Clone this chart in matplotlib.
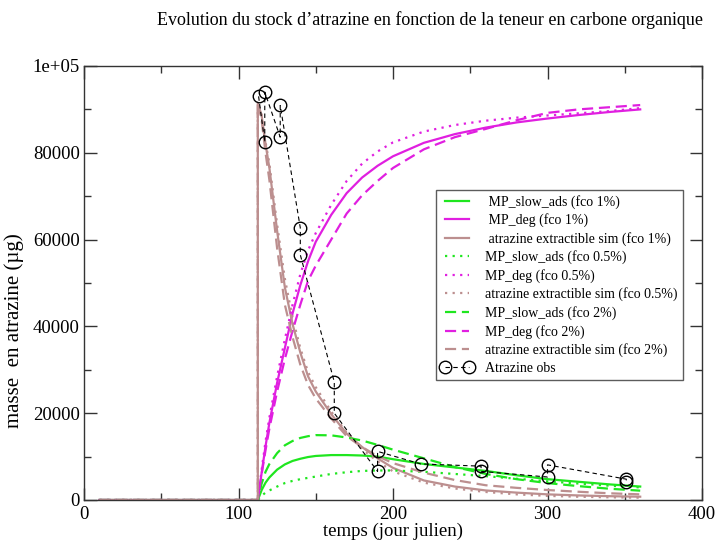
import matplotlib
matplotlib.use("Agg")
import matplotlib.pyplot as plt
from matplotlib.ticker import MultipleLocator

plt.rcParams['font.family'] = ['Liberation Serif', 'DejaVu Serif']

# ---------------- data ----------------
t_sim = [10, 112.5, 112.5, 115, 117.5, 120, 125, 130, 135, 140, 145, 150, 160,
         170, 180, 190, 200, 220, 240, 260, 280, 300, 320, 340, 360]

slow_ads_1 = [0, 0, 0, 2300, 4000, 5200, 7000, 8200, 9000, 9500, 9900, 10150, 10350,
              10350, 10250, 10000, 9400, 8300, 7500, 6700, 5700, 4800, 4200, 3600, 3100]
deg_1 = [0, 0, 0, 6300, 12400, 17800, 27000, 35000, 43000, 49500, 55000, 59500, 65700,
         70700, 74300, 77000, 79200, 82300, 84300, 85800, 87000, 87900, 88700, 89400, 90000]
extr_1 = [0, 0, 91500, 88500, 82000, 76500, 62000, 49000, 40500, 34000, 28500, 25000, 19800,
          15300, 12200, 9600, 7400, 4500, 3100, 2200, 1700, 1300, 1050, 880, 760]

slow_ads_05 = [0, 0, 0, 1000, 1700, 2200, 3100, 3900, 4400, 4800, 5100, 5400, 6000,
               6400, 6700, 6800, 6800, 6500, 6000, 5500, 4900, 4300, 3800, 3300, 2900]
deg_05 = [0, 0, 0, 7000, 13500, 19000, 28500, 37000, 45000, 52000, 57500, 61500, 68000,
          73500, 77500, 80300, 82400, 84900, 86400, 87400, 88100, 88600, 89100, 89600, 90300]
extr_05 = [0, 0, 91500, 88700, 82500, 77500, 63500, 51000, 42000, 35000, 29500, 26000, 20400,
           15500, 11700, 8900, 6600, 4000, 2650, 1850, 1300, 950, 750, 620, 530]

slow_ads_2 = [0, 0, 0, 3800, 6500, 8300, 10800, 12600, 13600, 14300, 14700, 14950, 14900,
              14400, 13700, 12700, 11600, 9600, 7600, 6000, 4800, 3900, 3200, 2600, 2150]
deg_2 = [0, 0, 0, 6000, 11500, 16500, 25000, 32500, 39000, 45000, 50500, 54000, 60000,
         66000, 70200, 73500, 76500, 80800, 83600, 85500, 87500, 89200, 90000, 90500, 91000]
extr_2 = [0, 0, 91500, 87500, 80000, 73700, 58000, 45000, 37500, 31200, 26500, 23400, 18800,
          14700, 12200, 10100, 8500, 6300, 4600, 3400, 2800, 2300, 1900, 1550, 1300]

t_obs = [113, 117, 117, 127, 127, 140, 140, 162, 162, 190, 190, 218, 257, 257, 300, 300, 351, 351]
y_obs = [93000, 82500, 94000, 83600, 90900, 62700, 56500, 27200, 20000, 6600, 11200, 8300,
         7800, 6600, 5300, 8100, 4800, 4200]

labels = [" MP_slow_ads (fco 1%)", " MP_deg (fco 1%)", " atrazine extractible sim (fco 1%)",
          "MP_slow_ads (fco 0.5%)", "MP_deg (fco 0.5%)", "atrazine extractible sim (fco 0.5%)",
          "MP_slow_ads (fco 2%)", "MP_deg (fco 2%)", "atrazine extractible sim (fco 2%)",
          "Atrazine obs"]

x_ticks = [0, 100, 200, 300, 400]
x_tick_labels = ["0", "100", "200", "300", "400"]
y_ticks = [0, 20000, 40000, 60000, 80000, 100000]
y_tick_labels = ["0", "20000", "40000", "60000", "80000", "1e+05"]

title = "Evolution du stock d\u2019atrazine en fonction de la teneur en carbone organique"
xlabel = "temps (jour julien)"
ylabel = "masse  en atrazine (\u00b5g)"

# ---------------- styling ----------------
GREEN = "#1fe61f"
MAGENTA = "#e01fe0"
BROWN = "#bc8f8f"
LW = 1.6
solid = "-"
dotted = (0, (1, 2.4))
dashed = (0, (5, 2.6))

fig = plt.figure(figsize=(7.17, 5.42), dpi=100)
ax = fig.add_axes([84 / 717, 1 - 500 / 542, 618 / 717, 434 / 542])

series = [
    (slow_ads_1, GREEN, solid), (deg_1, MAGENTA, solid), (extr_1, BROWN, solid),
    (slow_ads_05, GREEN, dotted), (deg_05, MAGENTA, dotted), (extr_05, BROWN, dotted),
    (slow_ads_2, GREEN, dashed), (deg_2, MAGENTA, dashed), (extr_2, BROWN, dashed),
]
for (vals, col, ls), lab in zip(series, labels[:9]):
    ax.plot(t_sim, vals, color=col, linestyle=ls, lw=LW, label=lab)

ax.plot(t_obs, y_obs, color="black", lw=0.8, linestyle=(0, (4, 3)), marker="o",
        markersize=9, markerfacecolor="none", markeredgecolor="black",
        markeredgewidth=1.0, label=labels[9])

ax.set_xlim(0, 400)
ax.set_ylim(0, 100000)
ax.set_xticks(x_ticks, x_tick_labels)
ax.set_yticks(y_ticks, y_tick_labels)
ax.xaxis.set_minor_locator(MultipleLocator(50))
ax.yaxis.set_minor_locator(MultipleLocator(10000))
ax.tick_params(which="both", direction="in", top=True, right=True, colors="#333333",
               labelcolor="black", labelsize=13.5, width=1.0)
ax.tick_params(which="major", length=9)
ax.tick_params(which="minor", length=5)
ax.tick_params(axis="x", pad=4)
ax.tick_params(axis="y", pad=3)
for s in ax.spines.values():
    s.set_color("#333333")
    s.set_linewidth(1.0)

ax.set_xlabel(xlabel, fontsize=13.5, labelpad=0)
ax.set_ylabel(ylabel, fontsize=15)
ax.yaxis.set_label_coords(-0.097, 0.39)

fig.text(430 / 717, 1 - 20 / 542, title, ha="center", va="center", fontsize=13)

leg = ax.legend(loc="upper left", bbox_to_anchor=((436 - 84) / 618, (500 - 190) / 434),
                fontsize=10, frameon=True, fancybox=False, numpoints=2,
                handlelength=2.3, handletextpad=0.9, labelspacing=0.33,
                borderpad=0.35, borderaxespad=0)
leg.get_frame().set_edgecolor("#333333")
leg.get_frame().set_linewidth(1.0)

fig.savefig("out.png", dpi=100)
